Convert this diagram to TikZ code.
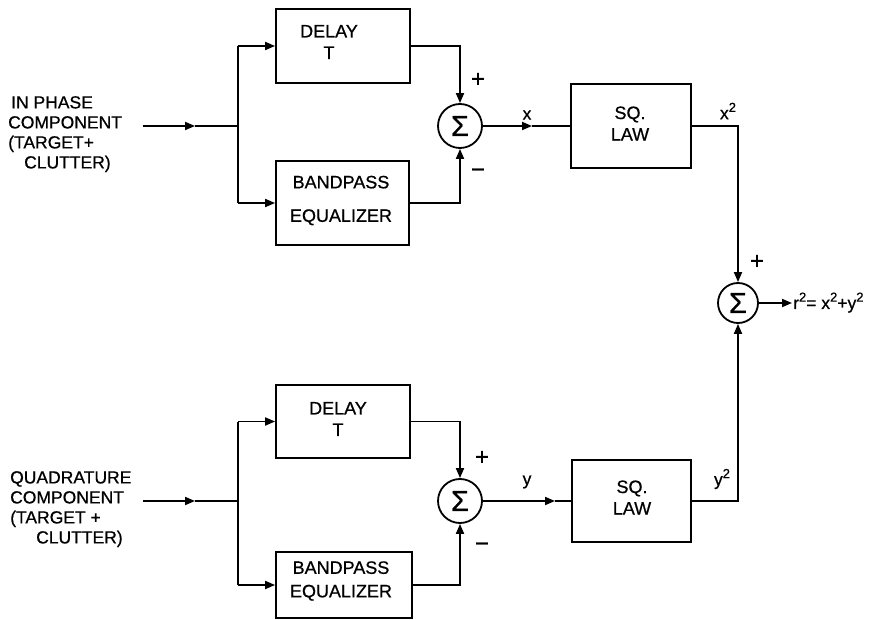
\documentclass[tikz,border=0pt]{standalone}
\usepackage{fontspec}
\setmainfont{Liberation Sans}[FakeBold=0.7]
\usetikzlibrary{arrows.meta}
\newcommand{\sqsup}{\raisebox{0.42em}{\fontsize{13}{13}\selectfont 2}}
\begin{document}
\begin{tikzpicture}[x=1pt,y=-1pt,
  blk/.style={draw, line width=1.8pt, rectangle, inner sep=0pt},
  sumc/.style={draw, line width=1.8pt, circle, inner sep=0pt, font=\fontsize{29}{29}\selectfont},
  txt/.style={font=\fontsize{17.5}{20}\selectfont, inner sep=0pt},
  sgn/.style={font=\fontsize{24}{24}\selectfont, inner sep=0pt},
  btxt/.style={font=\fontsize{18}{21.5}\selectfont, inner sep=0pt, align=center},
  arr/.style={line width=1.8pt, -{Triangle[length=10pt,width=8pt]}},
  wire/.style={line width=1.8pt}]
\useasboundingbox[fill=white] (0,0) rectangle (876,620);

% ---------- upper (in phase) channel ----------
\node[blk, minimum width=134pt, minimum height=74pt] (delayA) at (343,46) {};
\node[btxt] (delayAt) at (329,42) {DELAY\\T};
\node[blk, minimum width=133pt, minimum height=84pt] (bpA) at (342.5,203) {};
\node[btxt] (bpAt) at (341,200.5) {BANDPASS\\[12pt]EQUALIZER};
\node[sumc, minimum size=44pt] (sumA) at (460,126) {Σ};
\node[blk, minimum width=120pt, minimum height=84pt] (sqA) at (631,126) {};
\node[btxt] (sqAt) at (630,123.5) {SQ.\\LAW};

\node[txt, anchor=north west, align=left] (inA) at (8,96) {\hspace*{3pt}IN PHASE\\COMPONENT\\(TARGET+\\\hspace*{16pt}CLUTTER)};
\coordinate (inAs) at (143,126);
\coordinate (inAm) at (195,126);
\coordinate (jA) at (238,126);
\coordinate (xm) at (532,126);

\draw[arr] (inAs) -- (inAm);
\draw[wire] (inAm) -- (jA);
\draw[wire] (jA |- delayA.west) -- (jA |- bpA.west);
\draw[arr] (jA |- delayA.west) -- (delayA.west);
\draw[arr] (jA |- bpA.west) -- (bpA.west);
\draw[arr] (delayA.east) -| (sumA.north);
\draw[arr] (bpA.east) -| (sumA.south);
\draw[arr] (sumA.east) -- (xm);
\draw[wire] (xm) -- (sqA.west);

\node[sgn] (plA) at (478,80) {+};
\node[sgn] (miA) at (478,173) {−};
\node[txt] (xl) at (527,115) {x};
\node[txt] (x2l) at (728,111) {x\sqsup};

% ---------- lower (quadrature) channel ----------
\node[blk, minimum width=134pt, minimum height=73pt] (delayB) at (343,421.5) {};
\node[btxt] (delayBt) at (338,419) {DELAY\\T};
\node[blk, minimum width=136pt, minimum height=66pt] (bpB) at (344,585) {};
\node[btxt] (bpBt) at (341,581) {BANDPASS\\[2pt]EQUALIZER};
\node[sumc, minimum size=44pt] (sumB) at (460,501) {Σ};
\node[blk, minimum width=119pt, minimum height=82pt] (sqB) at (631.5,501) {};
\node[btxt] (sqBt) at (632,497.5) {SQ.\\LAW};

\node[txt, anchor=north west, align=left] (inB) at (10,471) {QUADRATURE\\COMPONENT\\(TARGET +\\\hspace*{26pt}CLUTTER)};
\coordinate (inBs) at (143,501);
\coordinate (inBm) at (195,501);
\coordinate (jB) at (238,501);
\coordinate (ym) at (555,501);

\draw[arr] (inBs) -- (inBm);
\draw[wire] (inBm) -- (jB);
\draw[wire] (jB |- delayB.west) -- (jB |- bpB.west);
\draw[arr] (jB |- delayB.west) -- (delayB.west);
\draw[arr] (jB |- bpB.west) -- (bpB.west);
\draw[arr] (delayB.east) -| (sumB.north);
\draw[arr] (bpB.east) -| (sumB.south);
\draw[arr] (sumB.east) -- (ym);
\draw[wire] (ym) -- (sqB.west);

\node[sgn] (plB) at (482,458) {+};
\node[sgn] (miB) at (482,547) {−};
\node[txt] (yl) at (527,482) {y};
\node[txt] (y2l) at (722,479) {y\sqsup};

% ---------- final summation ----------
\node[sumc, minimum size=40pt] (sumR) at (738,303) {Σ};
\draw[arr] (sqA.east) -| (sumR.north);
\draw[arr] (sqB.east) -| (sumR.south);
\node[txt, anchor=base west] (rout) at (793,309) {r\sqsup= x\sqsup+y\sqsup};
\coordinate (routin) at (792,303);
\draw[arr] (sumR.east) -- (routin);
\node[sgn] (plR) at (757,262) {+};
\end{tikzpicture}
\end{document}
